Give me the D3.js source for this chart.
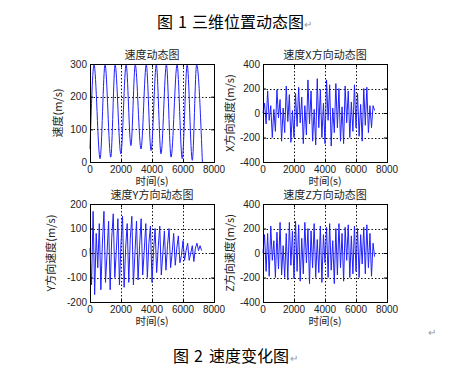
<!DOCTYPE html>
<html>
<head>
<meta charset="utf-8">
<script src="https://cdn.jsdelivr.net/npm/d3@7"></script>
<style>
  html, body { margin: 0; padding: 0; background: #fff; }
  svg { display: block; }
  .tick-label { font-family: "Liberation Sans", Arial, sans-serif; font-size: 10px; fill: #222; }
  .cjk { font-family: "Noto Sans CJK SC", sans-serif; fill: #222; }
</style>
</head>
<body>
<div id="chart"></div>
<script>
// ---- data ----
const xTicks = [0, 2000, 4000, 6000, 8000];
const sampleStep = 100; // seconds between samples for the component series

// total speed: turning points (time, value)
const speedTimes = [0, 260, 650, 970, 1340, 1620, 1990, 2330, 2640, 2920, 3290, 3630, 3940, 4280, 4580, 4930, 5230, 5620, 5950, 6270, 6600, 6880, 7250];
const speedValues = [40, 298, 10, 298, 15, 298, 25, 298, 50, 298, 40, 298, 35, 298, 25, 298, 15, 298, 10, 298, 5, 298, 0];

const velX = [0, 80, -90, 180, -60, 60, -200, 30, -150, 190,
  -40, 110, -230, 40, -160, 220, -70, 150, -240, 20,
  -200, 160, -110, 210, -80, 130, -250, 60, -180, 270,
  -90, 180, -230, 30, -260, 280, -120, 190, -200, 80,
  -250, 270, -60, 230, -270, 40, -160, 240, -120, 200,
  -230, 50, -250, 220, -80, 180, -200, 90, -150, 230,
  -120, 160, -190, 70, -230, 200, -100, 210, -160, 60,
  -120, 60, 20];

const velY = [20, -130, 170, -170, 80, -60, 120, -150, 40, 170,
  -120, 0, 130, -150, 60, 160, -100, 10, 140, -130,
  40, 150, -140, 20, 120, -120, 60, 150, -130, 0,
  130, -110, 30, 140, -90, 10, 120, -100, 40, 110,
  -120, 10, 100, -80, 20, 110, -90, 0, 90, -70,
  30, 100, -60, 0, 80, -50, 20, 70, -40, -10,
  50, -30, 10, 40, -30, 0, 30, -35, 20, 40,
  10, 30, 10];

const velZ = [0, 150, -150, 160, -190, 220, -60, 100, -200, 170,
  -130, 250, -180, 60, -200, 160, -220, 250, -100, 180,
  -210, 260, -150, 230, -230, 120, -170, 250, -80, 200,
  -250, 180, -120, 240, -200, 110, -160, 220, -240, 150,
  -80, 210, -200, 240, -140, 100, -250, 200, -180, 240,
  -120, 160, -230, 210, -60, 230, -200, 140, -170, 220,
  -150, 200, -200, 150, -90, 210, -170, 230, -120, 160,
  -190, 80, -30];

const panels = [
  { title: '速度动态图', ylabel: '速度(m/s)', yDomain: [0, 300], yTicks: [0, 100, 200, 300],
    times: speedTimes, values: speedValues, smooth: true, col: 0, row: 0 },
  { title: '速度X方向动态图', ylabel: 'X方向速度(m/s)', yDomain: [-400, 400], yTicks: [-400, -200, 0, 200, 400],
    times: velX.map((d, i) => i * sampleStep), values: velX, col: 1, row: 0 },
  { title: '速度Y方向动态图', ylabel: 'Y方向速度(m/s)', yDomain: [-200, 200], yTicks: [-200, -100, 0, 100, 200],
    times: velY.map((d, i) => i * sampleStep), values: velY, col: 0, row: 1 },
  { title: '速度Z方向动态图', ylabel: 'Z方向速度(m/s)', yDomain: [-400, 400], yTicks: [-400, -200, 0, 200, 400],
    times: velZ.map((d, i) => i * sampleStep), values: velZ, col: 1, row: 1 }
];

// ---- layout ----
const W = 460, H = 376;
const colLeft = [90, 263];
const rowTop = [64, 204];
const pw = 124, ph = 98;
const ylabelX = [[62, 234], [55, 234]];

const svg = d3.select('#chart').append('svg')
  .attr('width', W).attr('height', H);

// figure captions, laid out piece by piece like the word-processor line
function caption(parts, y) {
  parts.forEach(([txt, x, size, color]) => {
    svg.append('text').attr('class', 'cjk')
      .attr('x', x).attr('y', y)
      .attr('font-size', size + 'px')
      .style('fill', color)
      .text(txt);
  });
}

caption([['图', 157, 16, '#000'], ['1', 178, 16, '#000'], ['三维位置动态图', 192, 16, '#000'], ['↵', 304, 10, '#999']], 28);

panels.forEach(p => drawPanel(p));

caption([['↵', 428, 10, '#999']], 336);
caption([['图', 173, 16, '#000'], ['2', 194, 16, '#000'], ['速度变化图', 209, 16, '#000'], ['↵', 290, 10, '#999']], 362);

function drawPanel(p) {
  const left = colLeft[p.col], top = rowTop[p.row];
  const g = svg.append('g').attr('transform', `translate(${left},${top})`);

  const x = d3.scaleLinear().domain([0, 8000]).range([0, pw]);
  const y = d3.scaleLinear().domain(p.yDomain).range([ph, 0]);

  // dotted grid
  const inner = xTicks.slice(1, -1);
  g.selectAll('.gx').data(inner).join('line')
    .attr('x1', d => Math.round(x(d)) + 0.5).attr('x2', d => Math.round(x(d)) + 0.5)
    .attr('y1', 0).attr('y2', ph)
    .attr('stroke', '#111').attr('stroke-dasharray', '1.5,2');
  g.selectAll('.gy').data(p.yTicks.slice(1, -1)).join('line')
    .attr('y1', d => Math.round(y(d)) + 0.5).attr('y2', d => Math.round(y(d)) + 0.5)
    .attr('x1', 0).attr('x2', pw)
    .attr('stroke', '#111').attr('stroke-dasharray', '1.5,2');

  // data line
  const pts = p.times.map((t, i) => [t, p.values[i]]);
  const line = d3.line()
    .x(d => x(d[0])).y(d => y(d[1]))
    .curve(p.smooth ? d3.curveMonotoneX : d3.curveLinear);
  g.append('path').datum(pts)
    .attr('d', line)
    .attr('fill', 'none')
    .attr('stroke', '#2020ff')
    .attr('stroke-width', 1);

  // inward ticks on all sides
  g.append('g').call(d3.axisBottom(x).tickValues(xTicks).tickSize(-3).tickFormat(''))
    .attr('transform', `translate(0,${ph})`);
  g.append('g').call(d3.axisTop(x).tickValues(xTicks).tickSize(-3).tickFormat(''));
  g.append('g').call(d3.axisLeft(y).tickValues(p.yTicks).tickSize(-3).tickFormat(''));
  g.append('g').call(d3.axisRight(y).tickValues(p.yTicks).tickSize(-3).tickFormat(''))
    .attr('transform', `translate(${pw},0)`);
  g.selectAll('.domain').remove();
  g.selectAll('.tick line').attr('stroke', '#000');

  // box
  g.append('rect')
    .attr('x', 0.5).attr('y', 0.5).attr('width', pw).attr('height', ph)
    .attr('fill', 'none').attr('stroke', '#000');

  // tick labels
  g.selectAll('.xl').data(xTicks).join('text')
    .attr('class', 'tick-label')
    .attr('x', d => x(d)).attr('y', ph + 11)
    .attr('text-anchor', 'middle')
    .text(d => d);
  g.selectAll('.yl').data(p.yTicks).join('text')
    .attr('class', 'tick-label')
    .attr('x', -3).attr('y', d => y(d) + 3.5)
    .attr('text-anchor', 'end')
    .text(d => d);

  // title and axis labels
  g.append('text').attr('class', 'cjk')
    .attr('x', pw / 2).attr('y', -5)
    .attr('text-anchor', 'middle').attr('font-size', '11px')
    .text(p.title);
  g.append('text').attr('class', 'cjk')
    .attr('x', pw / 2).attr('y', ph + 23)
    .attr('text-anchor', 'middle').attr('font-size', '10.5px')
    .text('时间(s)');
  const lx = ylabelX[p.row][p.col] - left;
  g.append('text').attr('class', 'cjk')
    .attr('transform', `translate(${lx},${ph / 2}) rotate(-90)`)
    .attr('text-anchor', 'middle').attr('font-size', '11px')
    .text(p.ylabel);
}
</script>
</body>
</html>
